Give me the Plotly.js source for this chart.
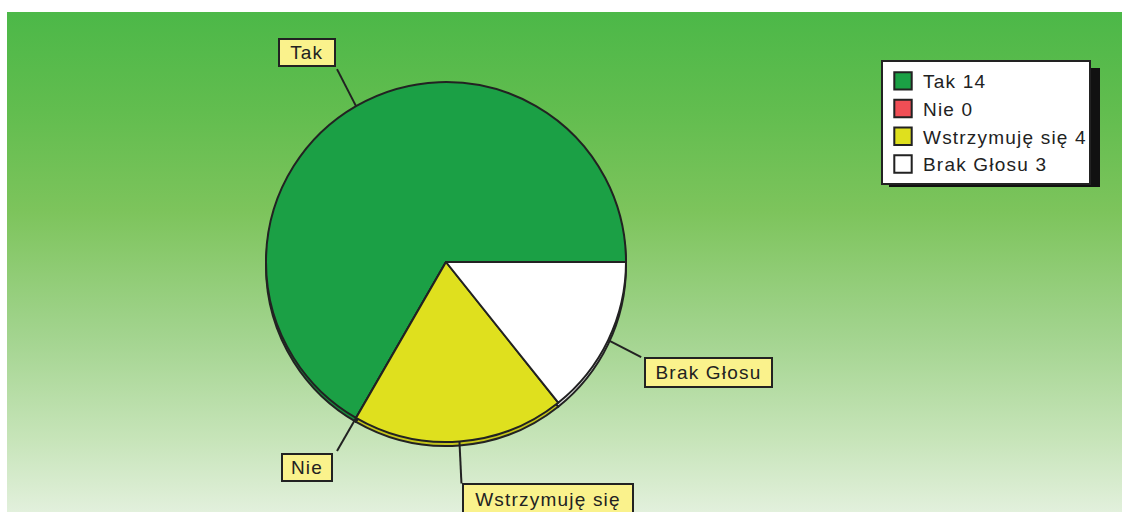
<!DOCTYPE html>
<html>
<head>
<meta charset="utf-8">
<script src="https://cdn.plot.ly/plotly-3.0.1.min.js"></script>
<style>
  html, body { margin: 0; padding: 0; background: #ffffff; }
  #bg { position: absolute; left: 7px; top: 12px; width: 1115px; height: 500px;
        background: linear-gradient(to bottom, #4cb848 0%, #62bd4f 20%, #7dc45c 40%, #a3d48f 65%, #c6e4b8 85%, #e2f0dc 100%); }
  #chart { position: absolute; left: 0; top: 0; width: 1122px; height: 512px; }
  #chart text.legendtext, #chart .annotation-text { letter-spacing: 1.2px; }
</style>
</head>
<body>
<div id="bg"></div>
<div id="chart"></div>
<script>
// ---- data ----
const categories = ["Tak", "Nie", "Wstrzymuję się", "Brak Głosu"];
const values = [14, 0, 4, 3];
const colors = ["#1ba045", "#f04e55", "#dfe01e", "#ffffff"];
const rimColors = ["#178f3c", "#d04048", "#c4c51c", "#e4e4e4"];

// ---- geometry (pixels) ----
const W = 1122, H = 512;
const cx = 446, cy = 262, r = 180, rim = 4;
const px = x => x / W;
const py = y => 1 - y / H;

// trailing no-break spaces only widen the legend box to leave room for letter spacing
const legendLabels = categories.map((c, i) => c + " " + values[i] + "\u00a0\u00a0\u00a0");

// first slice spans clockwise angles [rotation, rotation + slice]; Tak ends at 3 o'clock
const total = values.reduce((a, b) => a + b, 0);
const rotation = 90 - values[0] / total * 360;

const front = {
  type: "pie", labels: legendLabels, values: values, sort: false,
  direction: "counterclockwise", rotation: rotation,
  marker: { colors: colors, line: { color: "#222222", width: 2 } },
  textinfo: "none", hoverinfo: "none",
  domain: { x: [px(cx - r), px(cx + r)], y: [py(cy + r), py(cy - r)] }
};
const back = {
  type: "pie", labels: legendLabels, values: values, sort: false,
  direction: "counterclockwise", rotation: rotation, showlegend: false,
  marker: { colors: rimColors, line: { color: "#222222", width: 2 } },
  textinfo: "none", hoverinfo: "none",
  domain: { x: [px(cx - r), px(cx + r)], y: [py(cy + rim + r), py(cy + rim - r)] }
};

// mid angles of slices (counterclockwise from 3 o'clock)
let acc = 0;
const tips = values.map(v => {
  const mid = (acc + v / 2) / total * 2 * Math.PI;
  acc += v;
  return [cx + r * Math.cos(mid), cy - r * Math.sin(mid)];
});

// leader line offsets and label boxes (pixels)
const leadOffsets = [[-19, -37], [-19, 33], [2, 42], [33, 17]];
const boxes = [
  { x: 278, y: 38, w: 58, h: 29 },
  { x: 281, y: 453, w: 52, h: 29 },
  { x: 462, y: 483, w: 172, h: 32 },
  { x: 644, y: 357, w: 129, h: 31 }
];

const shapes = [];
const annotations = [];
categories.forEach((c, i) => {
  const t = tips[i], o = leadOffsets[i];
  shapes.push({ type: "line", xref: "paper", yref: "paper",
    x0: px(t[0]), y0: py(t[1]), x1: px(t[0] + o[0]), y1: py(t[1] + o[1]),
    line: { color: "#222222", width: 2 } });
  const b = boxes[i];
  annotations.push({ xref: "paper", yref: "paper", x: px(b.x), y: py(b.y),
    xanchor: "left", yanchor: "top", showarrow: false, text: c,
    width: b.w - 4, height: b.h - 4, borderpad: 0, borderwidth: 2,
    bordercolor: "#222222", bgcolor: "#faf28c", align: "center", valign: "middle",
    font: { family: "Liberation Sans, Arial, sans-serif", size: 19, color: "#222222" } });
});

// legend shadow
shapes.push({ type: "rect", xref: "paper", yref: "paper", layer: "below",
  x0: px(889), x1: px(1100), y0: py(68), y1: py(187),
  fillcolor: "#111111", line: { width: 0 } });

const layout = {
  width: W, height: H,
  margin: { l: 0, r: 0, t: 0, b: 0 },
  paper_bgcolor: "rgba(0,0,0,0)", plot_bgcolor: "rgba(0,0,0,0)",
  showlegend: true,
  legend: { x: px(881), y: py(60), xanchor: "left", yanchor: "top",
    bgcolor: "#ffffff", bordercolor: "#222222", borderwidth: 2,
    font: { family: "Liberation Sans, Arial, sans-serif", size: 19, color: "#222222" },
    traceorder: "normal" },
  shapes: shapes,
  annotations: annotations
};

Plotly.newPlot("chart", [back, front], layout, { staticPlot: true }).then(gd => {
  // enlarge legend swatches to match the reference
  gd.querySelectorAll(".legendpoints path").forEach(p => {
    const t = p.getAttribute("transform") || "";
    p.setAttribute("transform", t + " scale(1.45)");
    p.style.strokeWidth = "1.4px";
    p.style.stroke = "#222222";
  });
});
</script>
</body>
</html>
